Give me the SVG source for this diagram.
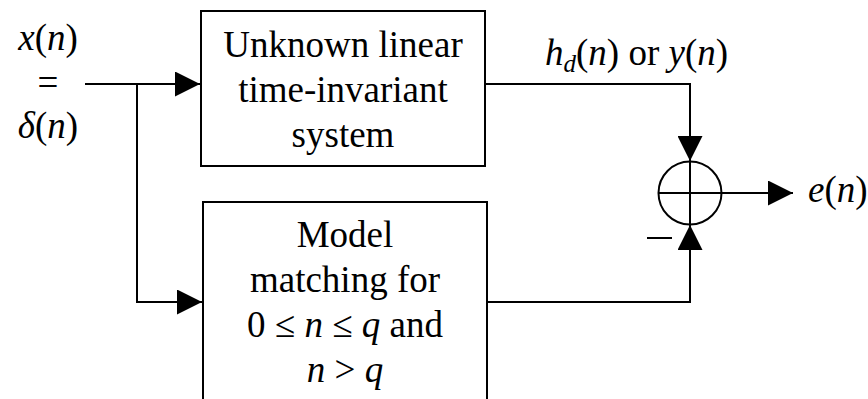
<svg xmlns="http://www.w3.org/2000/svg" width="868" height="399" viewBox="0 0 868 399">
  <defs>
    <marker id="arrow" viewBox="0 0 25 25" refX="25" refY="12.5" markerWidth="25" markerHeight="25" markerUnits="userSpaceOnUse" orient="auto">
      <path d="M0,0 L25,12.5 L0,25 Z" fill="#000"/>
    </marker>
  </defs>

  <rect width="868" height="399" fill="#fff"/>

  <!-- connectors -->
  <g id="connectors" fill="none" stroke="#000" stroke-width="2">
    <!-- input to unknown system -->
    <path d="M85,84 H200" marker-end="url(#arrow)"/>
    <!-- branch to model -->
    <path d="M137,84 V302 H202" marker-end="url(#arrow)"/>
    <!-- unknown system output down to summer -->
    <path d="M486,84 H690 V161" marker-end="url(#arrow)"/>
    <!-- model output up to summer -->
    <path d="M488,302 H690 V225" marker-end="url(#arrow)"/>
    <!-- summer output -->
    <path d="M722,193 H793" marker-end="url(#arrow)"/>
  </g>

  <!-- input label -->
  <g id="input-label" style="font-family: 'Liberation Serif', serif" font-size="37" text-anchor="middle">
    <text x="48" y="50"><tspan font-style="italic">x</tspan>(<tspan font-style="italic">n</tspan>)</text>
    <text x="48" y="95">=</text>
    <text x="48" y="138"><tspan font-style="italic">&#948;</tspan>(<tspan font-style="italic">n</tspan>)</text>
  </g>

  <!-- unknown LTI system -->
  <g id="unknown-system" style="font-family: 'Liberation Serif', serif" font-size="37" text-anchor="middle">
    <rect x="201" y="11" width="284" height="155" fill="#fff" stroke="#000" stroke-width="2"/>
    <text x="343" y="57">Unknown linear</text>
    <text x="343" y="102">time-invariant</text>
    <text x="343" y="147">system</text>
  </g>

  <!-- model -->
  <g id="model" style="font-family: 'Liberation Serif', serif" font-size="37" text-anchor="middle">
    <rect x="203" y="202" width="284" height="220" fill="#fff" stroke="#000" stroke-width="2"/>
    <text x="345" y="247">Model</text>
    <text x="345" y="292">matching for</text>
    <text x="345" y="337">0 &#8804; <tspan font-style="italic">n</tspan> &#8804; <tspan font-style="italic">q</tspan> and</text>
    <text x="345" y="382"><tspan font-style="italic">n</tspan> &gt; <tspan font-style="italic">q</tspan></text>
  </g>

  <!-- desired response label -->
  <g id="desired-label" style="font-family: 'Liberation Serif', serif" font-size="37">
    <text x="545" y="65"><tspan font-style="italic">h</tspan><tspan font-size="25" font-style="italic" dy="7">d</tspan><tspan dy="-7">(</tspan><tspan font-style="italic">n</tspan>) or <tspan font-style="italic">y</tspan>(<tspan font-style="italic">n</tspan>)</text>
  </g>

  <!-- summing junction -->
  <g id="summer" fill="none" stroke="#000" stroke-width="2">
    <circle cx="690" cy="193" r="31.5" fill="#fff"/>
    <path d="M658.5,193 H721.5 M690,161.5 V224.5"/>
    <path d="M647,238 H672"/>
  </g>

  <!-- error output label -->
  <g id="error-label" style="font-family: 'Liberation Serif', serif" font-size="37">
    <text x="808" y="202"><tspan font-style="italic">e</tspan>(<tspan font-style="italic">n</tspan>)</text>
  </g>
</svg>
